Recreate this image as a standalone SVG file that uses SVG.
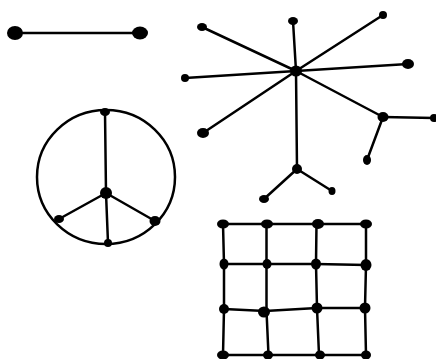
<svg xmlns="http://www.w3.org/2000/svg" width="436" height="359" viewBox="0 0 436 359">
<style>
.e{stroke:#000;stroke-width:2.5;fill:none;stroke-linecap:round}
.n{fill:#000}
</style>
<rect width="436" height="359" fill="#fff"/>
<g id="connectors">
<line class="e" x1="15" y1="33" x2="140" y2="33"/>
<line class="e" x1="296" y1="71" x2="293" y2="21"/>
<line class="e" x1="296" y1="71" x2="202" y2="27"/>
<line class="e" x1="296" y1="71" x2="383" y2="15"/>
<line class="e" x1="296" y1="71" x2="185" y2="78"/>
<line class="e" x1="296" y1="71" x2="408" y2="64"/>
<line class="e" x1="296" y1="71" x2="203" y2="133"/>
<line class="e" x1="296" y1="71" x2="383" y2="117"/>
<line class="e" x1="296" y1="71" x2="297" y2="169"/>
<line class="e" x1="383" y1="117" x2="434" y2="118"/>
<line class="e" x1="383" y1="117" x2="367" y2="160"/>
<line class="e" x1="297" y1="169" x2="264" y2="199"/>
<line class="e" x1="297" y1="169" x2="332" y2="191"/>
<ellipse class="e" cx="106" cy="177" rx="69" ry="67"/>
<line class="e" x1="105" y1="112" x2="106" y2="193"/>
<line class="e" x1="106" y1="193" x2="59" y2="219"/>
<line class="e" x1="106" y1="193" x2="155" y2="221"/>
<line class="e" x1="106" y1="193" x2="108" y2="243"/>
<polyline class="e" points="223,224 267,224 317,224 366,224"/>
<polyline class="e" points="224,264 267,264 316,264 366,265"/>
<polyline class="e" points="224,309 265,311 317,308 365,308"/>
<polyline class="e" points="223,355 268,355 319,355 366,355"/>
<polyline class="e" points="223,224 224,264 224,309 223,355"/>
<polyline class="e" points="266.5,224 266.5,264 266.5,311 268.5,355"/>
<polyline class="e" points="316.5,224 316,264 317,308 319,355"/>
<polyline class="e" points="366,224 366,265 365,308 366,355"/>
</g>
<g id="n1"><ellipse class="n" cx="15" cy="33" rx="8" ry="7"/></g>
<g id="n2"><ellipse class="n" cx="140" cy="33" rx="8" ry="6.5"/></g>
<g id="hub"><ellipse class="n" cx="296" cy="71" rx="6" ry="5.5"/></g>
<g id="s1"><ellipse class="n" cx="293" cy="21" rx="5" ry="4"/></g>
<g id="s2"><ellipse class="n" cx="202" cy="27" rx="5" ry="4"/></g>
<g id="s3"><ellipse class="n" cx="383" cy="15" rx="4" ry="4"/></g>
<g id="s4"><ellipse class="n" cx="185" cy="78" rx="4" ry="4"/></g>
<g id="s5"><ellipse class="n" cx="408" cy="64" rx="6" ry="5"/></g>
<g id="s6"><ellipse class="n" cx="203" cy="133" rx="6" ry="5"/></g>
<g id="s7"><ellipse class="n" cx="383" cy="117" rx="5.5" ry="5"/></g>
<g id="s8"><ellipse class="n" cx="434" cy="118" rx="4" ry="4"/></g>
<g id="s9"><ellipse class="n" cx="367" cy="160" rx="4" ry="5"/></g>
<g id="s10"><ellipse class="n" cx="297" cy="169" rx="5" ry="5"/></g>
<g id="s11"><ellipse class="n" cx="264" cy="199" rx="5" ry="4"/></g>
<g id="s12"><ellipse class="n" cx="332" cy="191" rx="3.5" ry="4"/></g>
<g id="p1"><ellipse class="n" cx="105" cy="112" rx="5" ry="4"/></g>
<g id="p2"><ellipse class="n" cx="106" cy="193" rx="6" ry="6"/></g>
<g id="p3"><ellipse class="n" cx="59" cy="219" rx="5" ry="4"/></g>
<g id="p4"><ellipse class="n" cx="155" cy="221" rx="5.5" ry="5"/></g>
<g id="p5"><ellipse class="n" cx="108" cy="243" rx="4" ry="4"/></g>
<g id="g11"><ellipse class="n" cx="223" cy="224" rx="6" ry="4.5"/></g>
<g id="g12"><ellipse class="n" cx="267" cy="224" rx="6" ry="4.5"/></g>
<g id="g13"><ellipse class="n" cx="318" cy="224" rx="6" ry="5"/></g>
<g id="g14"><ellipse class="n" cx="366" cy="224" rx="6" ry="4.5"/></g>
<g id="g21"><ellipse class="n" cx="224" cy="264" rx="4.5" ry="5.5"/></g>
<g id="g22"><ellipse class="n" cx="267" cy="264" rx="4.5" ry="5"/></g>
<g id="g23"><ellipse class="n" cx="316" cy="264" rx="5" ry="5.5"/></g>
<g id="g24"><ellipse class="n" cx="366" cy="265" rx="5.5" ry="6"/></g>
<g id="g31"><ellipse class="n" cx="224" cy="309" rx="5" ry="5"/></g>
<g id="g32"><ellipse class="n" cx="264" cy="312" rx="6" ry="5.5"/></g>
<g id="g33"><ellipse class="n" cx="317" cy="308" rx="5.5" ry="5.5"/></g>
<g id="g34"><ellipse class="n" cx="365" cy="308" rx="5.5" ry="5.5"/></g>
<g id="g41"><ellipse class="n" cx="223" cy="355" rx="6" ry="4.5"/></g>
<g id="g42"><ellipse class="n" cx="268" cy="355" rx="5" ry="4.5"/></g>
<g id="g43"><ellipse class="n" cx="320" cy="355" rx="5" ry="4.5"/></g>
<g id="g44"><ellipse class="n" cx="366" cy="355" rx="5" ry="4.5"/></g>
</svg>
